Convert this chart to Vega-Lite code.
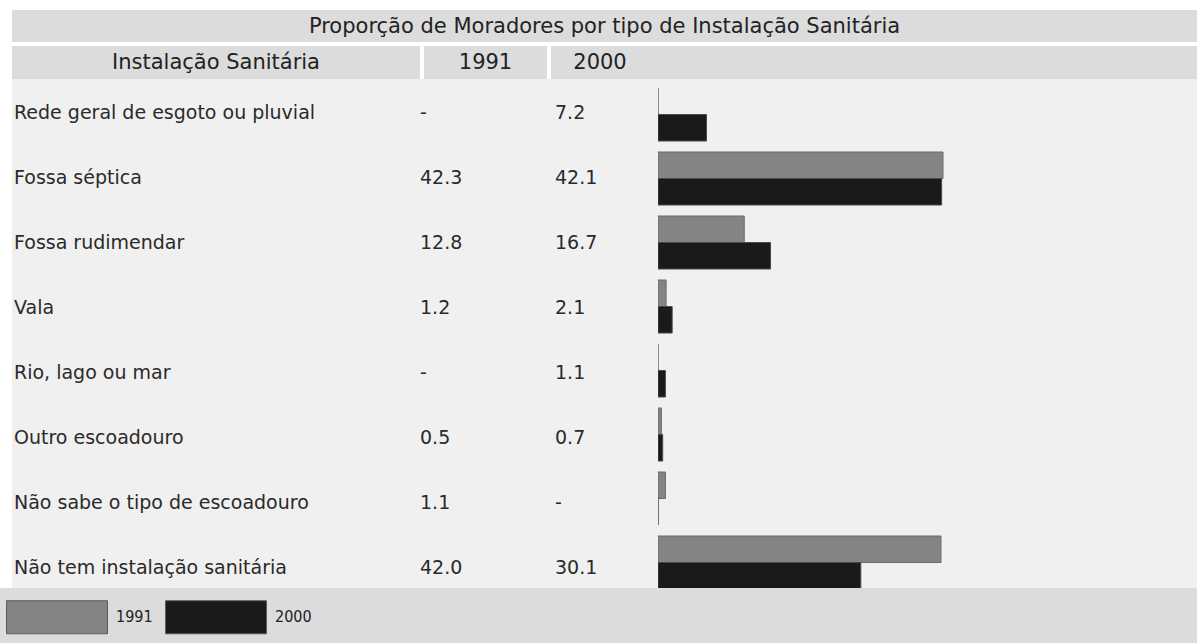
{
  "$schema": "https://vega.github.io/schema/vega-lite/v6.json",
  "background": "#ffffff",
  "padding": {"left": 0, "top": 10, "right": 0, "bottom": 0},
  "config": {
    "view": {"stroke": null},
    "concat": {"spacing": 0},
    "text": {"font": "DejaVu Sans", "color": "#222222"}
  },
  "resolve": {"scale": {"fill": "independent", "stroke": "independent"}, "legend": {"fill": "independent", "stroke": "independent"}},
  "datasets": {
    "rows": [
      {"cat": "Rede geral de esgoto ou pluvial", "year": "1991", "value": null},
      {"cat": "Rede geral de esgoto ou pluvial", "year": "2000", "value": 7.2},
      {"cat": "Fossa séptica", "year": "1991", "value": 42.3},
      {"cat": "Fossa séptica", "year": "2000", "value": 42.1},
      {"cat": "Fossa rudimendar", "year": "1991", "value": 12.8},
      {"cat": "Fossa rudimendar", "year": "2000", "value": 16.7},
      {"cat": "Vala", "year": "1991", "value": 1.2},
      {"cat": "Vala", "year": "2000", "value": 2.1},
      {"cat": "Rio, lago ou mar", "year": "1991", "value": null},
      {"cat": "Rio, lago ou mar", "year": "2000", "value": 1.1},
      {"cat": "Outro escoadouro", "year": "1991", "value": 0.5},
      {"cat": "Outro escoadouro", "year": "2000", "value": 0.7},
      {"cat": "Não sabe o tipo de escoadouro", "year": "1991", "value": 1.1},
      {"cat": "Não sabe o tipo de escoadouro", "year": "2000", "value": null},
      {"cat": "Não tem instalação sanitária", "year": "1991", "value": 42.0},
      {"cat": "Não tem instalação sanitária", "year": "2000", "value": 30.1}
    ],
    "title": [{"t": "Proporção de Moradores por tipo de Instalação Sanitária"}],
    "h1": [{"t": "Instalação Sanitária"}],
    "h2": [{"t": "1991"}],
    "h3": [{"t": "2000"}],
    "years": [{"year": "1991"}, {"year": "2000"}],
    "none": []
  },
  "vconcat": [
    {
      "hconcat": [
        {
          "width": 12, "height": 1,
          "data": {"name": "none"},
          "mark": {"type": "point"},
          "encoding": {}
        },
        {
          "vconcat": [
            {
              "vconcat": [
                {
                  "width": 1185, "height": 32,
                  "view": {"fill": "#dcdcdc"},
                  "data": {"name": "title"},
                  "mark": {"type": "text", "fontSize": 21, "baseline": "middle", "align": "center", "dy": 1},
                  "encoding": {"text": {"field": "t"}}
                },
                {
                  "hconcat": [
                    {
                      "width": 408, "height": 33,
                      "view": {"fill": "#dcdcdc"},
                      "data": {"name": "h1"},
                      "mark": {"type": "text", "fontSize": 21, "baseline": "middle", "align": "center"},
                      "encoding": {"text": {"field": "t"}}
                    },
                    {
                      "width": 123, "height": 33,
                      "view": {"fill": "#dcdcdc"},
                      "data": {"name": "h2"},
                      "mark": {"type": "text", "fontSize": 21, "baseline": "middle", "align": "center"},
                      "encoding": {"text": {"field": "t"}}
                    },
                    {
                      "hconcat": [
                        {
                          "width": 104, "height": 33,
                          "view": {"fill": "#dcdcdc"},
                          "data": {"name": "h3"},
                          "mark": {"type": "text", "fontSize": 21, "baseline": "middle", "align": "center", "dx": -3},
                          "encoding": {"text": {"field": "t"}}
                        },
                        {
                          "width": 542, "height": 33,
                          "view": {"fill": "#dcdcdc"},
                          "data": {"name": "none"},
                          "mark": {"type": "point"},
                          "encoding": {}
                        }
                      ],
                      "spacing": 0
                    }
                  ],
                  "spacing": 4
                }
              ],
              "spacing": 4
            },
            {
              "hconcat": [
                {
                  "width": 388, "height": 509,
                  "view": {"fill": "#f0f0f0"},
                  "data": {"name": "rows"},
                  "transform": [{"filter": "datum.year === '1991'"}],
                  "mark": {"type": "text", "fontSize": 19, "align": "left", "baseline": "middle", "dx": 2, "dy": 2, "color": "#2a2a2a"},
                  "encoding": {
                    "x": {"value": 0},
                    "y": {"field": "cat", "type": "nominal", "sort": null, "axis": null, "scale": {"range": [0, 519], "paddingInner": 0.171875, "paddingOuter": 0.140625}},
                    "text": {"field": "cat"}
                  }
                },
                {
                  "width": 140, "height": 509,
                  "view": {"fill": "#f0f0f0"},
                  "data": {"name": "rows"},
                  "transform": [{"filter": "datum.year === '1991'"}],
                  "mark": {"type": "text", "fontSize": 19, "align": "left", "baseline": "middle", "dx": 20, "dy": 2, "color": "#2a2a2a"},
                  "encoding": {
                    "x": {"value": 0},
                    "y": {"field": "cat", "type": "nominal", "sort": null, "axis": null, "scale": {"range": [0, 519], "paddingInner": 0.171875, "paddingOuter": 0.140625}},
                    "text": {"condition": {"test": "datum.value === null", "value": "-"}, "field": "value", "type": "quantitative", "format": ".1f"}
                  }
                },
                {
                  "width": 118, "height": 509,
                  "view": {"fill": "#f0f0f0"},
                  "data": {"name": "rows"},
                  "transform": [{"filter": "datum.year === '2000'"}],
                  "mark": {"type": "text", "fontSize": 19, "align": "left", "baseline": "middle", "dx": 15, "dy": 2, "color": "#2a2a2a"},
                  "encoding": {
                    "x": {"value": 0},
                    "y": {"field": "cat", "type": "nominal", "sort": null, "axis": null, "scale": {"range": [0, 519], "paddingInner": 0.171875, "paddingOuter": 0.140625}},
                    "text": {"condition": {"test": "datum.value === null", "value": "-"}, "field": "value", "type": "quantitative", "format": ".1f"}
                  }
                },
                {
                  "width": 539, "height": 509,
                  "view": {"fill": "#f0f0f0"},
                  "data": {"name": "rows"},
                  "mark": {"type": "bar", "strokeWidth": 1, "invalid": "show", "clip": true},
                  "encoding": {
                    "y": {"field": "cat", "type": "nominal", "sort": null, "axis": null, "scale": {"range": [0, 519], "paddingInner": 0.171875, "paddingOuter": 0.140625}},
                    "yOffset": {"field": "year", "type": "nominal", "scale": {"paddingInner": 0, "paddingOuter": 0}},
                    "x": {"field": "value", "type": "quantitative", "axis": null, "scale": {"domain": [0, 80], "nice": false}},
                    "fill": {"field": "year", "type": "nominal", "legend": null, "scale": {"domain": ["1991", "2000"], "range": ["#848484", "#1a1a1a"]}},
                    "stroke": {"field": "year", "type": "nominal", "legend": null, "scale": {"domain": ["1991", "2000"], "range": ["#6a6a6a", "#4a4a4a"]}}
                  }
                }
              ],
              "spacing": 0
            }
          ],
          "spacing": 0
        }
      ],
      "spacing": 0
    },
    {
      "width": 1197, "height": 55,
      "view": {"fill": "#dcdcdc"},
      "data": {"name": "years"},
      "mark": {"type": "square", "opacity": 0},
      "encoding": {
        "fill": {
          "field": "year", "type": "nominal",
          "scale": {"domain": ["1991", "2000"], "range": ["#848484", "#1a1a1a"]},
          "legend": {
            "orient": "none", "legendX": 40, "legendY": 12, "direction": "horizontal", "title": null,
            "symbolType": "M-3.06,-1H3.06V1H-3.06Z", "symbolSize": 1089, "symbolOpacity": 1,
            "symbolStrokeColor": "#5a5a5a", "symbolStrokeWidth": 1,
            "labelFont": "DejaVu Sans Condensed", "labelFontSize": 16, "labelColor": "#222222",
            "labelOffset": 42, "columnPadding": 10, "padding": 0
          }
        }
      }
    }
  ],
  "spacing": 0
}
